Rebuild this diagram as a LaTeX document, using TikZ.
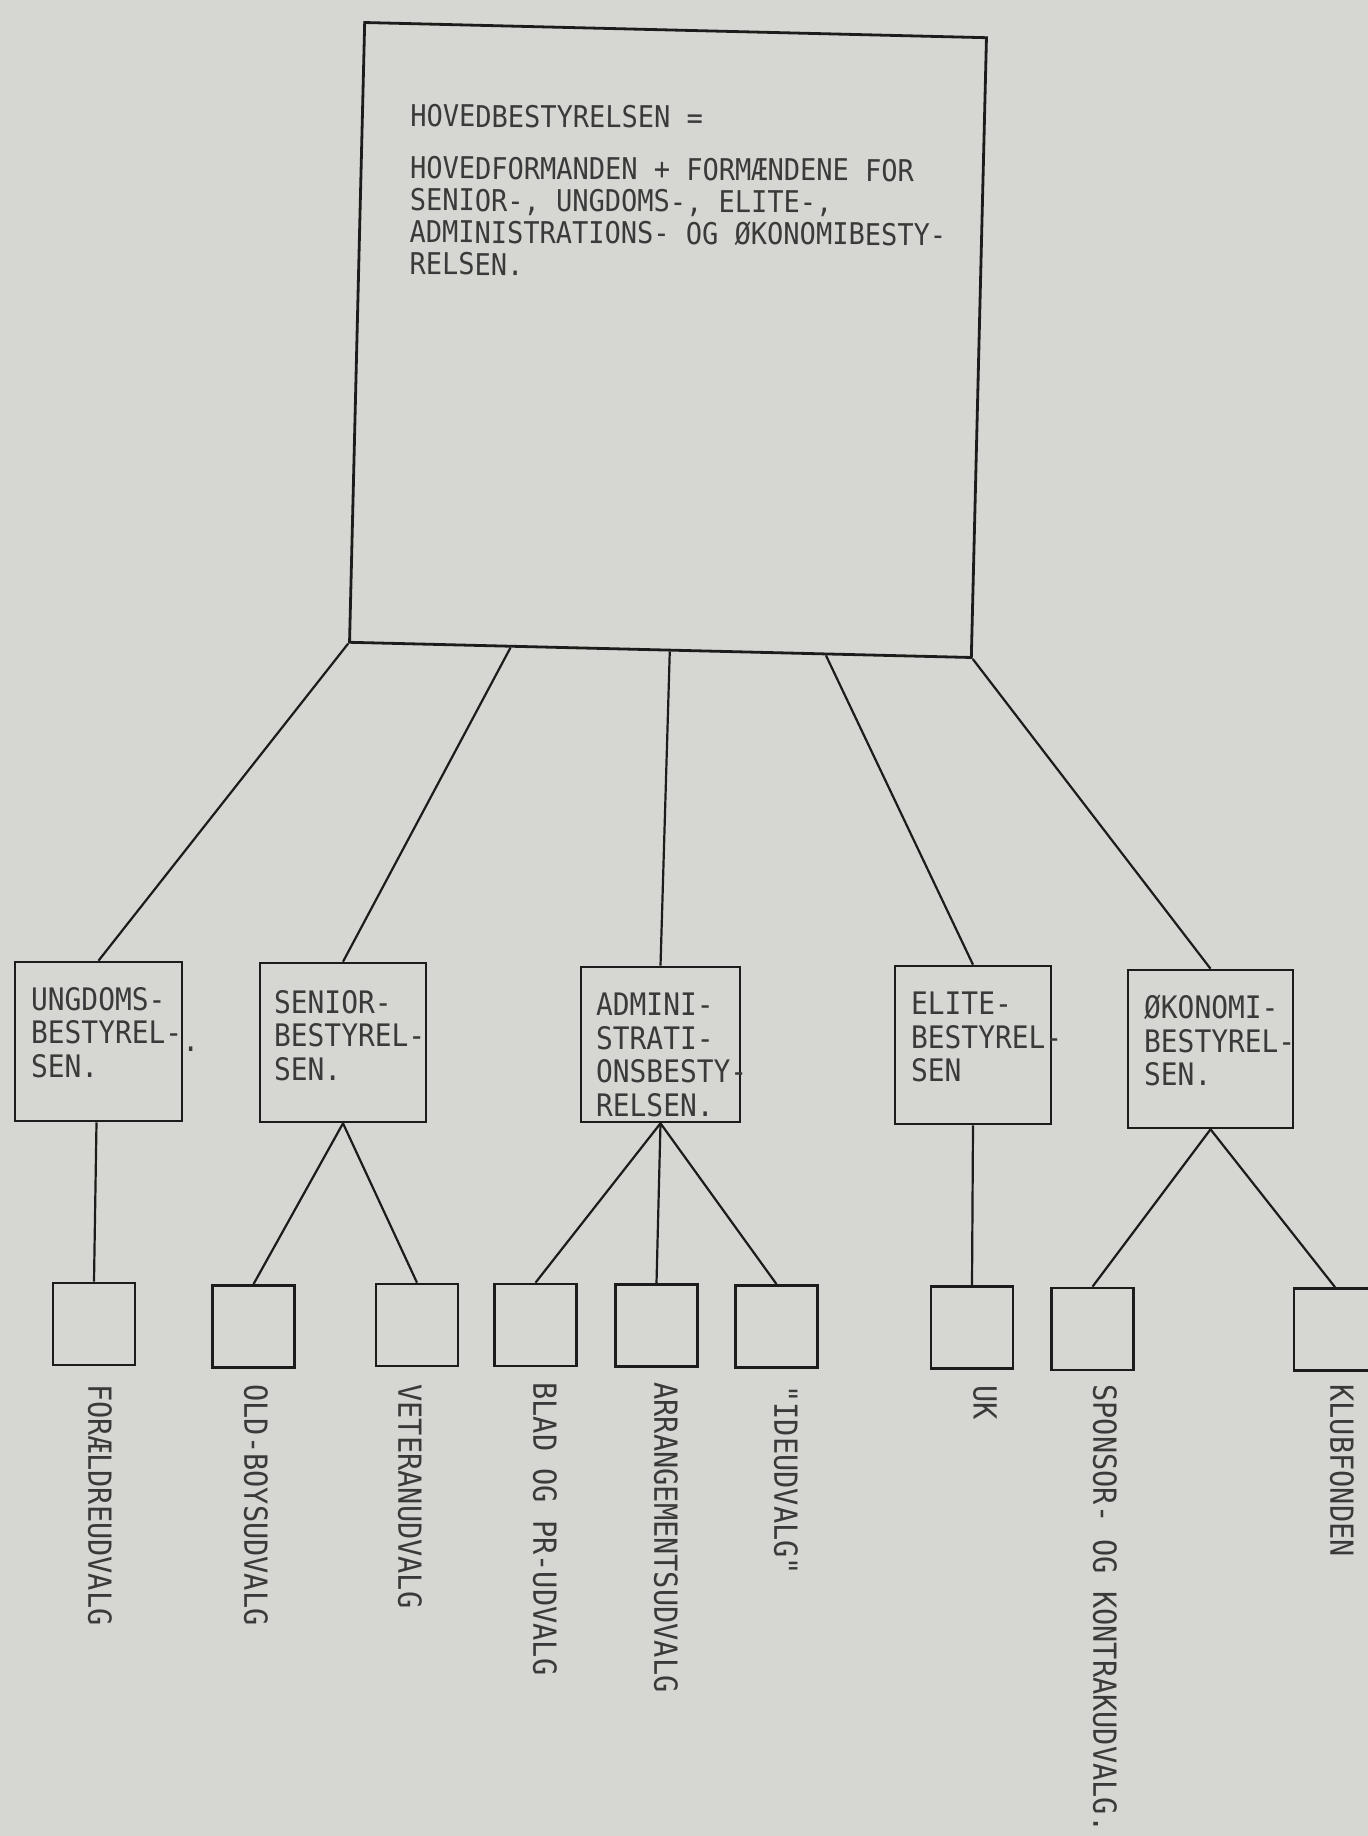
\documentclass[tikz,border=0pt]{standalone}
\usepackage{fontspec}
\newfontfamily\tw[FakeStretch=0.9]{DejaVu Sans Mono}
\usetikzlibrary{calc}
\definecolor{paper}{RGB}{214,214,210}
\definecolor{ink}{RGB}{28,28,28}
\definecolor{typeink}{RGB}{58,58,58}
\begin{document}
\begin{tikzpicture}[x=0.5pt,y=-0.5pt,
  conn/.style={draw=ink, line width=1.1pt},
  mainbox/.style={draw=ink, line width=1.4pt, minimum width=311pt, minimum height=310pt, inner sep=0pt},
  midbox/.style={draw=ink, line width=1.3pt, inner sep=0pt},
  subbox/.style={draw=ink, line width=1.35pt, minimum width=41pt, minimum height=41pt, inner sep=0pt},
  maintext/.style={text=typeink, inner sep=0pt, align=left, anchor=north west, font={\tw\fontsize{15pt}{16pt}\selectfont\frenchspacing}},
  midtext/.style={text=typeink, inner sep=0pt, align=left, anchor=north west, font={\tw\fontsize{15.5pt}{16.8pt}\selectfont\frenchspacing}},
  vlabel/.style={text=typeink, inner sep=0pt, anchor=west, rotate=-90, font={\tw\fontsize{15.9pt}{17pt}\selectfont\frenchspacing}}
]
\useasboundingbox (0,0) rectangle (1368,1836);
\fill[paper] (0,0) rectangle (1368,1836);

% main board
\node[mainbox, rotate=-1.4] (hb) at (668,340) {};
\node[maintext, rotate=-0.3] (hbt) at (410,104) {HOVEDBESTYRELSEN =\\[10pt]%
HOVEDFORMANDEN + FORMÆNDENE FOR\\%
SENIOR-, UNGDOMS-, ELITE-,\\%
ADMINISTRATIONS- OG ØKONOMIBESTY-\\%
RELSEN.};

% middle boards
\node[midbox, minimum width=83.5pt, minimum height=79.5pt] (ub) at (98.5,1041.5) {};
\node[midbox, minimum width=83pt, minimum height=79.5pt] (sb) at (343,1042.5) {};
\node[midbox, minimum width=79.5pt, minimum height=77.5pt] (ab) at (660.5,1044.5) {};
\node[midbox, minimum width=78pt, minimum height=79pt] (eb) at (973,1045) {};
\node[midbox, minimum width=82.5pt, minimum height=79pt] (ob) at (1210.5,1049) {};

\node[midtext] (ubt) at ($(ub.north west)+(17,26)$) {UNGDOMS-\\BESTYREL-\raisebox{-4pt}{.}\\SEN.};
\node[midtext] (sbt) at ($(sb.north west)+(15,28)$) {SENIOR-\\BESTYREL-\\SEN.};
\node[midtext] (abt) at ($(ab.north west)+(16,27)$) {ADMINI-\\STRATI-\\ONSBESTY-\\RELSEN.};
\node[midtext] (ebt) at ($(eb.north west)+(17,27)$) {ELITE-\\BESTYREL-\\SEN};
\node[midtext] (obt) at ($(ob.north west)+(17,26)$) {ØKONOMI-\\BESTYREL-\\SEN.};

% committees
\node[subbox] (b1) at (94,1324) {};
\node[subbox] (b2) at (253.5,1326.5) {};
\node[subbox] (b3) at (417,1325) {};
\node[subbox] (b4) at (535.5,1325) {};
\node[subbox] (b5) at (656.5,1325.5) {};
\node[subbox] (b6) at (776.5,1326.5) {};
\node[subbox] (b7) at (972,1327.5) {};
\node[subbox] (b8) at (1092.5,1329) {};
\node[subbox] (b9) at (1335,1329.5) {};

\node[vlabel] (l1) at (100,1384) {FORÆLDREUDVALG};
\node[vlabel] (l2) at (256,1384) {OLD-BOYSUDVALG};
\node[vlabel] (l3) at (410,1384) {VETERANUDVALG};
\node[vlabel] (l4) at (545,1382) {BLAD OG PR-UDVALG};
\node[vlabel] (l5) at (666,1382) {ARRANGEMENTSUDVALG};
\node[vlabel] (l6) at (786,1385) {"IDEUDVALG"};
\node[vlabel] (l7) at (985,1385) {UK};
\node[vlabel] (l8) at (1105,1384) {SPONSOR- OG KONTRAKUDVALG.};
\node[vlabel] (l9) at (1342,1384) {KLUBFONDEN};

% connectors main -> boards
\draw[conn] (hb.south west) -- (ub.north);
\draw[conn] ($(hb.south west)!0.26!(hb.south east)$) -- (sb.north);
\draw[conn] ($(hb.south west)!0.515!(hb.south east)$) -- (ab.north);
\draw[conn] ($(hb.south west)!0.765!(hb.south east)$) -- (eb.north);
\draw[conn] (hb.south east) -- (ob.north);

% connectors boards -> committees
\draw[conn] ($(ub.south)+(-2,0)$) -- (b1.north);
\draw[conn] (sb.south) -- (b2.north);
\draw[conn] (sb.south) -- (b3.north);
\draw[conn] (ab.south) -- (b4.north);
\draw[conn] (ab.south) -- (b5.north);
\draw[conn] (ab.south) -- (b6.north);
\draw[conn] (eb.south) -- (b7.north);
\draw[conn] (ob.south) -- (b8.north);
\draw[conn] (ob.south) -- (b9.north);
\end{tikzpicture}
\end{document}
